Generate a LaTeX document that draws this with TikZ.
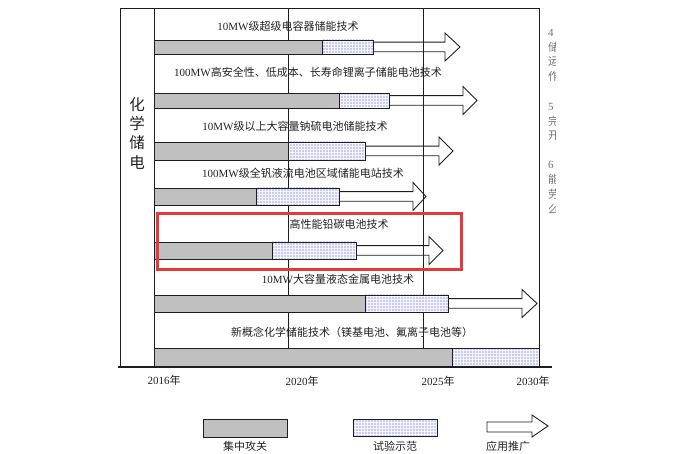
\documentclass[tikz,border=0pt]{standalone}
\usepackage{fontspec}
\setmainfont{Liberation Serif}
\newfontfamily\cjk{Noto Sans CJK SC}
\usetikzlibrary{patterns.meta}
\definecolor{barGray}{RGB}{192,192,192}
\definecolor{dotBlue}{RGB}{70,70,185}
\definecolor{dotBack}{RGB}{244,244,255}
\definecolor{hiRed}{RGB}{226,58,58}
\definecolor{txt}{RGB}{35,35,35}
\definecolor{lineCol}{RGB}{30,30,30}

\newcommand{\techrow}[6]{% #1 top, #2 bottom, #3 gray end, #4 dot end, #5 head base, #6 tip
  \path[graybar] (154,#1) rectangle (#3,#2);
  \path[dotbar] (#3,#1) rectangle (#4,#2);
  \pgfmathsetmacro\ym{(#1+#2)/2}
  \draw[blockarrow] (#4,\ym-4.8) -- (#5,\ym-4.8) -- (#5,\ym-14) -- (#6,\ym) -- (#5,\ym+14) -- (#5,\ym+4.8) -- (#4,\ym+4.8);
}

\begin{document}
\begin{tikzpicture}[x=1pt,y=-1pt,
  frameline/.style={draw=lineCol,line width=0.9pt},
  barline/.style={draw=lineCol,line width=0.9pt},
  graybar/.style={fill=barGray,barline},
  dotbar/.style={preaction={fill=dotBack},pattern={Dots[distance=3pt,radius=0.55pt]},pattern color=dotBlue,barline},
  blockarrow/.style={draw=lineCol,line width=0.9pt,line join=miter},
  lbl/.style={inner sep=0pt,text=txt,font=\fontsize{11}{13}\selectfont},
  side/.style={inner sep=0pt,text=txt,font=\fontsize{15.5}{17}\selectfont},
  cut/.style={inner sep=0pt,anchor=west,text=black!55,font=\fontsize{11}{13}\selectfont},
]
\fill[white] (0,0) rectangle (691,454);
\useasboundingbox (0,0) rectangle (691,454);

% grid and frame
\draw[frameline] (288,8) -- (288,367);
\draw[frameline] (423,8) -- (423,367);
\draw[frameline] (120,8) -- (539,8);
\draw[frameline] (120,8) -- (120,367);
\draw[frameline] (154,8) -- (154,367);
\draw[frameline] (539,8) -- (539,367);

% rows
\techrow{40}{54}{322}{373}{445}{460}
\techrow{93}{108}{339}{389}{463}{477}
\techrow{142}{160}{288}{365}{439}{453}
\techrow{188}{205}{256}{339}{413}{426}
\techrow{242}{259}{272}{356}{429}{443}
\techrow{295}{312}{365}{448}{522}{537}
\path[graybar] (154,348) rectangle (452,366);
\path[dotbar] (452,348) rectangle (539,366);

\draw[lineCol,line width=1.1pt] (118,367) -- (552,367);

% row labels
\node[lbl] (t1) at (288,26) {10MW{\cjk 级超级电容器储能技术}};
\node[lbl] (t2) at (308,72) {100MW{\cjk 高安全性、低成本、长寿命锂离子储能电池技术}};
\node[lbl] (t3) at (295,126) {10MW{\cjk 级以上大容量钠硫电池储能技术}};
\node[lbl] (t4) at (303,173) {100MW{\cjk 级全钒液流电池区域储能电站技术}};
\node[lbl] (t5) at (339,224) {\cjk 高性能铅碳电池技术};
\node[lbl] (t6) at (338,279) {10MW{\cjk 大容量液态金属电池技术}};
\node[lbl] (t7) at (352,332) {\cjk 新概念化学储能技术（镁基电池、氟离子电池等）};

% side label
\node[side] (s1) at (137,105) {\cjk 化};
\node[side] (s2) at (137,124) {\cjk 学};
\node[side] (s3) at (137,143) {\cjk 储};
\node[side] (s4) at (137,162) {\cjk 电};

% axis labels
\node[lbl] (y16) at (164,380) {2016{\cjk 年}};
\node[lbl] (y20) at (302,381) {2020{\cjk 年}};
\node[lbl] (y25) at (438,381) {2025{\cjk 年}};
\node[lbl] (y30) at (533,381) {2030{\cjk 年}};

% highlight
\draw[hiRed,line width=3pt] (157,214) rectangle (461,270);

% legend
\path[graybar] (203,419) rectangle (287,437);
\path[dotbar] (353,419) rectangle (437,436);
\draw[blockarrow] (487,422) -- (532,422) -- (532,415) -- (548,426) -- (532,437) -- (532,432) -- (487,432) -- cycle;
\node[lbl] (l1) at (245,446) {\cjk 集中攻关};
\node[lbl] (l2) at (395,446) {\cjk 试验示范};
\node[lbl] (l3) at (508,446) {\cjk 应用推广};

% clipped side text
\begin{scope}
\clip (541,0) rectangle (555.5,454);
\node[cut] (c1) at (548,33) {4};
\node[cut] (c2) at (548,47) {\cjk 储};
\node[cut] (c3) at (548,62) {\cjk 运};
\node[cut] (c4) at (548,76) {\cjk 作};
\node[cut] (c5) at (548,107) {5};
\node[cut] (c6) at (548,121) {\cjk 完};
\node[cut] (c7) at (548,136) {\cjk 开};
\node[cut] (c8) at (548,165) {6};
\node[cut] (c9) at (548,179) {\cjk 能};
\node[cut] (c10) at (548,194) {\cjk 劳};
\node[cut] (c11) at (548,209) {\cjk 么};
\end{scope}
\end{tikzpicture}
\end{document}
